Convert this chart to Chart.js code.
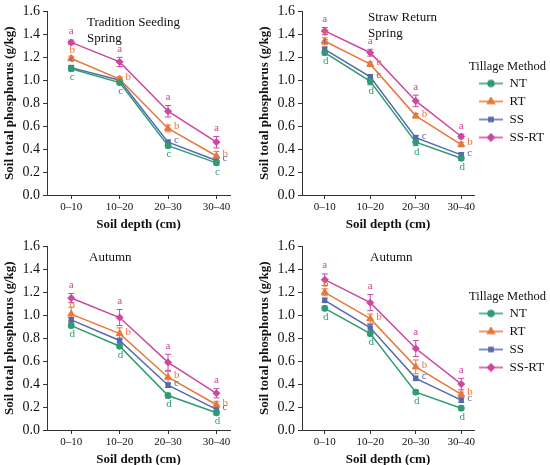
<!DOCTYPE html>
<html>
<head>
<meta charset="utf-8">
<script src="https://cdn.jsdelivr.net/npm/chart.js@4.4.0/dist/chart.umd.min.js"></script>
<style>
    body { margin: 0; background: #fff; }
    #wrap { position: relative; width: 550px; height: 465px; overflow: hidden; }
    canvas { position: absolute; }
</style>
</head>
<body>
<div id="wrap"></div>
<script>
// depth classes and treatments
const depthLabels = ["0–10", "10–20", "20–30", "30–40"];
const seriesNames = ["NT", "RT", "SS", "SS-RT"];
const yTickValues = [0, 0.2, 0.4, 0.6, 0.8, 1.0, 1.2, 1.4, 1.6];
const legendTitle = "Tillage Method";

// rows: NT, RT, SS, SS-RT
const tsSpringMeans = [
    [1.10, 0.98, 0.43, 0.28],
    [1.19, 1.01, 0.58, 0.34],
    [1.11, 1.00, 0.46, 0.30],
    [1.33, 1.16, 0.73, 0.46]
];
const tsSpringErrors = [
    [0.02, 0.02, 0.02, 0.02],
    [0.02, 0.02, 0.03, 0.04],
    [0.02, 0.02, 0.02, 0.02],
    [0.02, 0.04, 0.05, 0.05]
];
const tsSpringLetters = [
    ["c", "c", "c", "c"],
    ["b", "b", "b", "b"],
    ["c", "", "c", "c"],
    ["a", "a", "a", "a"]
];

const srSpringMeans = [
    [1.24, 0.99, 0.46, 0.32],
    [1.34, 1.14, 0.69, 0.44],
    [1.27, 1.03, 0.50, 0.35],
    [1.43, 1.24, 0.82, 0.51]
];
const srSpringErrors = [
    [0.02, 0.03, 0.03, 0.02],
    [0.03, 0.02, 0.02, 0.02],
    [0.02, 0.02, 0.02, 0.02],
    [0.03, 0.03, 0.05, 0.02]
];
const srSpringLetters = [
    ["d", "d", "d", "d"],
    ["b", "b", "b", "b"],
    ["c", "c", "c", "c"],
    ["a", "a", "a", "a"]
];

const tsAutumnMeans = [
    [0.91, 0.73, 0.30, 0.15],
    [1.01, 0.84, 0.46, 0.22],
    [0.96, 0.78, 0.39, 0.18],
    [1.15, 0.98, 0.59, 0.32]
];
const tsAutumnErrors = [
    [0.02, 0.02, 0.02, 0.02],
    [0.06, 0.05, 0.05, 0.03],
    [0.02, 0.02, 0.02, 0.02],
    [0.04, 0.07, 0.07, 0.04]
];
const tsAutumnLetters = [
    ["d", "d", "d", "d"],
    ["b", "b", "b", "b"],
    ["", "", "c", "c"],
    ["a", "a", "a", "a"]
];

const srAutumnMeans = [
    [1.06, 0.84, 0.33, 0.19],
    [1.20, 0.97, 0.55, 0.31],
    [1.13, 0.89, 0.45, 0.26],
    [1.31, 1.11, 0.71, 0.40]
];
const srAutumnErrors = [
    [0.02, 0.02, 0.02, 0.02],
    [0.03, 0.04, 0.06, 0.02],
    [0.02, 0.03, 0.02, 0.02],
    [0.05, 0.07, 0.07, 0.05]
];
const srAutumnLetters = [
    ["d", "d", "d", "d"],
    ["b", "b", "b", "b"],
    ["", "", "c", "c"],
    ["a", "a", "a", "a"]
];

const seriesColors = ["#2e9b72", "#e8773d", "#5669ad", "#cc479f"];
const seriesMarkers = ["circle", "triangle", "rect", "rectRot"];
const markerSizes = [3, 4, 3, 3.5];

Chart.defaults.font.family = "'Liberation Serif', 'Times New Roman', serif";
Chart.defaults.color = "#111";

function legendIcon(idx) {
    const c = document.createElement("canvas");
    c.width = 24;
    c.height = 10;
    const ctx = c.getContext("2d");
    ctx.strokeStyle = seriesColors[idx];
    ctx.lineWidth = 1.5;
    ctx.beginPath();
    ctx.moveTo(0, 5);
    ctx.lineTo(24, 5);
    ctx.stroke();
    ctx.fillStyle = seriesColors[idx];
    Chart.helpers.drawPoint(ctx, { pointStyle: seriesMarkers[idx], radius: markerSizes[idx], borderWidth: 1 }, 12, 5);
    return c;
}

// error bars under the markers, significance letters on top
const errorLetterPlugin = {
    id: "errorLetters",
    beforeDatasetsDraw(chart) {
        const ctx = chart.ctx;
        const y = chart.scales.y;
        chart.data.datasets.forEach((ds, i) => {
            const meta = chart.getDatasetMeta(i);
            ctx.save();
            ctx.strokeStyle = ds.borderColor;
            ctx.lineWidth = 1;
            meta.data.forEach((pt, j) => {
                const v = ds.data[j].y;
                const e = ds.errors[j];
                const top = y.getPixelForValue(v + e);
                const bot = y.getPixelForValue(v - e);
                ctx.beginPath();
                ctx.moveTo(pt.x, top);
                ctx.lineTo(pt.x, bot);
                ctx.moveTo(pt.x - 3, top);
                ctx.lineTo(pt.x + 3, top);
                ctx.moveTo(pt.x - 3, bot);
                ctx.lineTo(pt.x + 3, bot);
                ctx.stroke();
            });
            ctx.restore();
        });
    },
    afterDatasetsDraw(chart) {
        const ctx = chart.ctx;
        const y = chart.scales.y;
        chart.data.datasets.forEach((ds, i) => {
            const meta = chart.getDatasetMeta(i);
            ctx.save();
            ctx.fillStyle = ds.borderColor;
            ctx.font = "11px 'Liberation Serif', serif";
            meta.data.forEach((pt, j) => {
                const letter = ds.letters[j];
                if (!letter) return;
                const v = ds.data[j].y;
                const e = ds.errors[j];
                if (i === 3) {
                    ctx.textAlign = "center";
                    ctx.textBaseline = "bottom";
                    ctx.fillText(letter, pt.x, y.getPixelForValue(v + e) - 3);
                } else if (i === 0) {
                    ctx.textAlign = "center";
                    ctx.textBaseline = "top";
                    ctx.fillText(letter, pt.x + 1, y.getPixelForValue(v - e) + 1);
                } else if (j === 0) {
                    ctx.textAlign = "center";
                    ctx.textBaseline = "bottom";
                    ctx.fillText(letter, pt.x + 1, pt.y - 3);
                } else {
                    ctx.textAlign = "left";
                    ctx.textBaseline = "middle";
                    ctx.fillText(letter, pt.x + 6, pt.y - 2);
                }
            });
            ctx.restore();
        });
    }
};

// in-plot captions, plus the legend heading (the legend box clips a wide title)
const panelTextPlugin = {
    id: "panelText",
    afterDraw(chart) {
        const opts = chart.options.plugins.panelText;
        if (!opts) return;
        const ctx = chart.ctx;
        const area = chart.chartArea;
        ctx.save();
        ctx.fillStyle = "#111";
        ctx.font = "13px 'Liberation Serif', serif";
        ctx.textAlign = "left";
        ctx.textBaseline = "middle";
        opts.lines.forEach((line, k) => {
            ctx.fillText(line, area.left + opts.dx, area.top + opts.dy + k * 16);
        });
        if (chart.options.plugins.legend.display && chart.legend.legendHitBoxes.length) {
            const first = chart.legend.legendHitBoxes[0];
            ctx.font = "12.5px 'Liberation Serif', serif";
            ctx.textAlign = "right";
            ctx.fillText(legendTitle, chart.width - 4, first.top + first.height / 2 - 17);
        }
        ctx.restore();
    }
};

function criarPainel(left, top, width, means, errors, letters, lines, dx, dy, showLegend, legendTop) {
    const canvas = document.createElement("canvas");
    canvas.width = width;
    canvas.height = 232;
    canvas.style.left = left + "px";
    canvas.style.top = top + "px";
    canvas.style.width = width + "px";
    canvas.style.height = "232px";
    document.getElementById("wrap").appendChild(canvas);

    const datasets = seriesNames.map((name, i) => ({
        label: name,
        data: means[i].map((v, j) => ({ x: j, y: v })),
        errors: errors[i],
        letters: letters[i],
        borderColor: seriesColors[i],
        backgroundColor: seriesColors[i],
        borderWidth: 1.5,
        pointStyle: seriesMarkers[i],
        pointRadius: markerSizes[i],
        pointBorderWidth: 1,
        tension: 0
    }));

    return new Chart(canvas.getContext("2d"), {
        type: "line",
        data: { datasets },
        plugins: [errorLetterPlugin, panelTextPlugin],
        options: {
            responsive: false,
            animation: false,
            layout: { padding: { top: 9, left: 0, right: showLegend ? 3 : 15, bottom: 0 } },
            plugins: {
                tooltip: { enabled: false },
                panelText: { lines, dx, dy },
                legend: {
                    display: showLegend,
                    position: "right",
                    align: "start",
                    title: {
                        display: true,
                        text: legendTitle,
                        color: "rgba(0,0,0,0)",
                        font: { size: 12.5 },
                        padding: { top: legendTop, bottom: 3 }
                    },
                    labels: {
                        usePointStyle: true,
                        pointStyleWidth: 24,
                        padding: 5,
                        font: { size: 13 },
                        generateLabels: () => seriesNames.map((name, i) => ({
                            text: name,
                            pointStyle: legendIcon(i),
                            fillStyle: seriesColors[i],
                            strokeStyle: seriesColors[i],
                            lineWidth: 0,
                            fontColor: "#111",
                            datasetIndex: i
                        }))
                    }
                }
            },
            scales: {
                x: {
                    type: "linear",
                    min: -0.5,
                    max: 3.28,
                    afterBuildTicks: s => { s.ticks = depthLabels.map((_, i) => ({ value: i })); },
                    afterFit: s => { s.height = 37; },
                    ticks: {
                        font: { size: 11 },
                        padding: 2,
                        maxRotation: 0,
                        callback: v => depthLabels[v]
                    },
                    grid: { drawOnChartArea: false, tickLength: 4, color: "#333" },
                    border: { color: "#333", width: 1 },
                    title: {
                        display: true,
                        text: "Soil depth (cm)",
                        font: { size: 13, weight: "bold" },
                        padding: { top: 2, bottom: 0 }
                    }
                },
                y: {
                    min: 0,
                    max: 1.6,
                    afterBuildTicks: s => { s.ticks = yTickValues.map(v => ({ value: v })); },
                    afterFit: s => { s.width = 47; },
                    ticks: {
                        font: { size: 14 },
                        padding: 3,
                        callback: v => v.toFixed(1)
                    },
                    grid: { drawOnChartArea: false, tickLength: 4, color: "#333" },
                    border: { color: "#333", width: 1 },
                    title: {
                        display: true,
                        text: "Soil total phosphorus (g/kg)",
                        font: { size: 13, weight: "bold" },
                        padding: { top: 2, bottom: 0 }
                    }
                }
            }
        }
    });
}

criarPainel(0, 0, 245, tsSpringMeans, tsSpringErrors, tsSpringLetters, ["Tradition Seeding", "Spring"], 40, 11, false, 0);
criarPainel(255, 0, 295, srSpringMeans, srSpringErrors, srSpringLetters, ["Straw Return", "Spring"], 66, 6, true, 45);
criarPainel(0, 235, 245, tsAutumnMeans, tsAutumnErrors, tsAutumnLetters, ["Autumn"], 42, 11, false, 0);
criarPainel(255, 235, 295, srAutumnMeans, srAutumnErrors, srAutumnLetters, ["Autumn"], 68, 11, true, 40);
</script>
</body>
</html>
